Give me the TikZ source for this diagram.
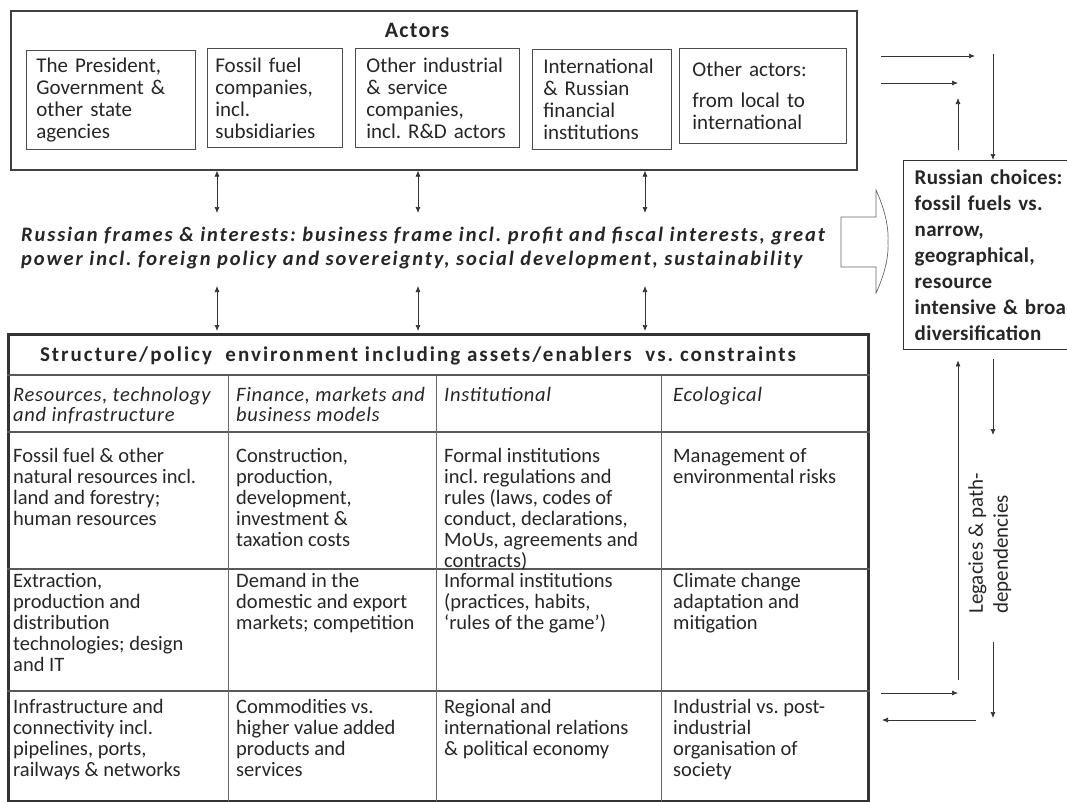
\documentclass[tikz,border=0pt]{standalone}
\usepackage{fontspec}
\setmainfont{Carlito}
\usetikzlibrary{arrows.meta}
\newcommand\fsz[2]{\fontsize{#1}{#2}\selectfont}
\newcommand\lsp[1]{\addfontfeature{LetterSpace=#1}}
\begin{document}
\frenchspacing
\begin{tikzpicture}[x=1pt,y=-1pt,
  abox/.style={draw=black!70, line width=0.7pt, anchor=north west, align=left, text=black!85, font=\fsz{21}{22}},
  arr/.style={-{Latex[length=6pt,width=5pt]}, draw=black!80, line width=0.7pt},
  dbl/.style={{Latex[length=6pt,width=5pt]}-{Latex[length=6pt,width=5pt]}, draw=black!80, line width=0.7pt},
  cell/.style={anchor=north west, inner sep=0pt, align=left, text=black!85, font=\fsz{20.5}{21}},
  hcell/.style={cell, font=\fsz{20.5}{20}\itshape\lsp{3.4}},
  rowline/.style={draw=black!65, line width=1.2pt},
  colline/.style={draw=black!60, line width=0.8pt},
]
\useasboundingbox (0,0) rectangle (1067,801);
\clip (0,0) rectangle (1067,801);

% ---------- Actors ----------
\node[draw=black!75, line width=1.6pt, anchor=north west, minimum width=846pt, minimum height=159pt, inner sep=0pt] (actors) at (10,10) {};
\node[font=\fsz{22}{24}\bfseries\lsp{5.5}, text=black!85] (actt) at (417,30) {Actors};
\node[abox, minimum width=169pt, minimum height=99pt, inner xsep=10pt, text width=149pt] (a1) at (26,50)
  {The President,\\Government~\&\\other state\\agencies};
\node[abox, minimum width=135pt, minimum height=99pt, inner xsep=8pt, text width=119pt] (a2) at (207,48)
  {Fossil fuel\\companies,\\incl.\\subsidiaries};
\node[abox, minimum width=164pt, minimum height=99pt, inner xsep=11pt, text width=142pt] (a3) at (355,48)
  {Other~industrial\\\& service\\companies,\\incl.~R\&D~actors};
\node[abox, minimum width=139pt, minimum height=100pt, inner xsep=11pt, text width=117pt] (a4) at (532,49)
  {International\\\& Russian\\financial\\institutions};
\node[abox, minimum width=167pt, minimum height=95pt, inner xsep=13pt, text width=141pt] (a5) at (679,48)
  {Other actors:\\[9pt]from local to\\international};

% ---------- Frames ----------
\node[anchor=north west, inner sep=0pt, align=left, text=black!85, font=\fsz{20.5}{24}\bfseries\itshape\lsp{9.2}] (frames) at (21,227)
  {Russian frames \& interests: business frame incl. profit and fiscal interests, great\\
   power incl. foreign policy and sovereignty, social development, sustainability};

% ---------- Table ----------
\node[draw=black!80, line width=2.6pt, anchor=north west, minimum width=860pt, minimum height=467pt, inner sep=0pt] (table) at (7,333) {};
\node[font=\fsz{21}{24}\bfseries\lsp{9.6}, text=black!85] (ttl) at (418,356)
  {Structure/policy\ \ environment including assets/enablers\ \ vs. constraints};
\draw[rowline] (table.west |- 0,375) -- (table.east |- 0,375);
\draw[rowline] (table.west |- 0,432) -- (table.east |- 0,432);
\draw[rowline] (table.west |- 0,569) -- (table.east |- 0,569);
\draw[rowline] (table.west |- 0,691) -- (table.east |- 0,691);
\draw[colline] (228,375) -- (table.south -| 228,0);
\draw[colline] (436,375) -- (table.south -| 436,0);
\draw[colline] (661,375) -- (table.south -| 661,0);

\node[hcell] (h1) at (13,387) {Resources, technology\\and infrastructure};
\node[hcell] (h2) at (236,387) {Finance, markets and\\business models};
\node[hcell] (h3) at (444,387) {Institutional};
\node[hcell] (h4) at (673,387) {Ecological};

\node[cell] (c11) at (13,448) {Fossil fuel \& other\\natural resources incl.\\land and forestry;\\human resources};
\node[cell] (c12) at (236,448) {Construction,\\production,\\development,\\investment \&\\taxation costs};
\node[cell] (c13) at (444,448) {Formal institutions\\incl. regulations and\\rules (laws, codes of\\conduct, declarations,\\MoUs, agreements and\\contracts)};
\node[cell] (c14) at (673,448) {Management of\\environmental risks};

\node[cell] (c21) at (13,573) {Extraction,\\production and\\distribution\\technologies; design\\and IT};
\node[cell] (c22) at (236,573) {Demand in the\\domestic and export\\markets; competition};
\node[cell] (c23) at (444,573) {Informal institutions\\(practices, habits,\\`rules of the game')};
\node[cell] (c24) at (673,573) {Climate change\\adaptation and\\mitigation};

\node[cell] (c31) at (13,699) {Infrastructure and\\connectivity incl.\\pipelines, ports,\\railways \& networks};
\node[cell] (c32) at (236,699) {Commodities vs.\\higher value added\\products and\\services};
\node[cell] (c33) at (444,699) {Regional and\\international relations\\\& political economy};
\node[cell] (c34) at (673,699) {Industrial vs. post-\\industrial\\organisation of\\society};

% ---------- vertical double arrows ----------
\coordinate (x1) at (217,0);
\coordinate (x2) at (418,0);
\coordinate (x3) at (645,0);
\coordinate (fu) at (0,213);
\coordinate (fd) at (0,286);
\foreach \c in {x1,x2,x3}{
  \draw[dbl] (actors.south -| \c) -- (fu -| \c);
  \draw[dbl] (fd -| \c) -- ([yshift=2pt]table.north -| \c);
}

% ---------- big hollow arrow ----------
\draw[draw=black!60, line width=0.7pt, fill=white]
  (841,217) -- (876,217) -- (876,190) .. controls (883,205) and (889,225) .. (888,242)
  .. controls (889,259) and (883,278) .. (876,293) -- (876,267) -- (841,267) -- cycle;

% ---------- Russian choices ----------
\node[draw=black!80, line width=1.4pt, anchor=north west, minimum width=220pt, minimum height=189pt,
      inner xsep=11pt, text width=200pt, align=left, text=black!85, font=\fsz{21}{26}\bfseries\lsp{1.5}] (choice) at (903,160)
  {Russian choices:\\fossil fuels vs.\\narrow,\\geographical,\\resource\\intensive~\&~broad\\diversification};

% ---------- right-hand arrows ----------
\coordinate (ra1) at (881,56);  \coordinate (rb1) at (975,56);
\coordinate (ra2) at (881,83);  \coordinate (rb2) at (958,83);
\coordinate (u1) at (958,150);  \coordinate (u1e) at (958,98);
\coordinate (d1) at (993,54);
\draw[arr] (ra1) -- (rb1);
\draw[arr] (ra2) -- (rb2);
\draw[arr] (u1) -- (u1e);
\draw[arr] (d1) -- (choice.north -| d1);

\coordinate (u2) at (958,680);
\coordinate (d2) at (993,435);
\coordinate (d3a) at (993,642); \coordinate (d3b) at (993,718);
\coordinate (h1a) at (881,693); \coordinate (h1b) at (958,693);
\coordinate (h2a) at (976,720); \coordinate (h2b) at (882,720);
\draw[arr] (u2) -- ([yshift=-10pt]choice.south -| u2);
\draw[arr] ([yshift=-9pt]choice.south -| d2) -- (d2);
\draw[arr] (d3a) -- (d3b);
\draw[arr] (h1a) -- (h1b);
\draw[arr] (h2a) -- (h2b);

\node[rotate=90, anchor=north west, inner sep=0pt, align=left, text=black!85, font=\fsz{21}{25}] (leg) at (968,614)
  {Legacies \& path-\\dependencies};
\end{tikzpicture}
\end{document}
